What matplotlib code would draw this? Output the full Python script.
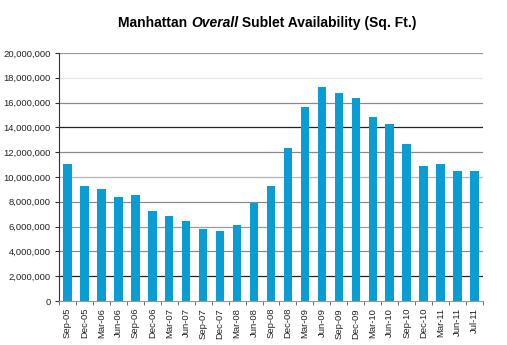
import numpy as np
import matplotlib
matplotlib.use("Agg")
import matplotlib.pyplot as plt
from matplotlib.ticker import FuncFormatter, FixedLocator

plt.rcParams['font.family'] = ['Liberation Sans', 'DejaVu Sans']

# data
quarters = ["Sep-05", "Dec-05", "Mar-06", "Jun-06", "Sep-06", "Dec-06", "Mar-07", "Jun-07",
            "Sep-07", "Dec-07", "Mar-08", "Jun-08", "Sep-08", "Dec-08", "Mar-09", "Jun-09",
            "Sep-09", "Dec-09", "Mar-10", "Jun-10", "Sep-10", "Dec-10", "Mar-11", "Jun-11", "Jul-11"]
sublet_sqft = [11080000, 9300000, 9030000, 8390000, 8580000, 7260000, 6880000, 6480000,
               5810000, 5670000, 6160000, 7900000, 9300000, 12370000, 15670000, 17280000,
               16770000, 16400000, 14840000, 14250000, 12690000, 10890000, 11080000, 10480000, 10480000]
y_ticks = [0, 2e6, 4e6, 6e6, 8e6, 10e6, 12e6, 14e6, 16e6, 18e6, 20e6]

fig = plt.figure(figsize=(5.07, 3.45), dpi=100)
ax = fig.add_axes([0.1164, 0.1275, 0.8363, 0.7189])

# gridlines look uneven in the original, mimic that
grid_colors = ["none", "#222222", "#8a8a8a", "#9a9a9a", "#8a8a8a", "#b5b5b5",
               "#8a8a8a", "#222222", "#8a8a8a", "#e6e6e6", "#9a9a9a"]
for yv, c in zip(y_ticks, grid_colors):
    if c != "none":
        ax.axhline(yv, color=c, lw=0.9, zorder=0)

x = np.arange(len(quarters))
ax.bar(x, sublet_sqft, width=0.5, color="#0a9dd3", zorder=2)

ax.set_xlim(-0.5, len(quarters) - 0.5)
ax.set_ylim(0, 20e6)
ax.set_yticks(y_ticks)
ax.yaxis.set_major_formatter(FuncFormatter(lambda v, p: f"{int(v):,}"))
ax.set_xticks(x)
ax.set_xticklabels(quarters, rotation=90, fontsize=6.8, color="#222222")
ax.xaxis.set_minor_locator(FixedLocator(np.arange(-0.5, len(quarters), 1)))
ax.tick_params(axis="x", which="major", length=0, pad=5)
ax.tick_params(axis="x", which="minor", length=3, color="#555577", direction="out")
ax.tick_params(axis="y", length=3, labelsize=6.8, labelcolor="#222222", color="#333333", pad=3)

for s in ["top", "right"]:
    ax.spines[s].set_visible(False)
ax.spines["left"].set_color("#333333")
ax.spines["bottom"].set_color("#999999")
ax.spines["left"].set_linewidth(0.8)
ax.spines["bottom"].set_linewidth(0.8)

# title with mixed styles
parts = [("Manhattan ", "normal"), ("Overall", "italic"), (" Sublet Availability (Sq. Ft.)", "normal")]
renderer = fig.canvas.get_renderer()
texts = []
widths = []
for s, style in parts:
    t = fig.text(0, 0.932, s, fontsize=10, fontweight="bold", style=style, va="center", ha="left")
    widths.append(t.get_window_extent(renderer).width)
    texts.append(t)
total = sum(widths)
cx = 267.5
start = cx - total / 2
for t, w in zip(texts, widths):
    t.set_x(start / fig.bbox.width)
    start += w

plt.savefig("out.png", dpi=100)
